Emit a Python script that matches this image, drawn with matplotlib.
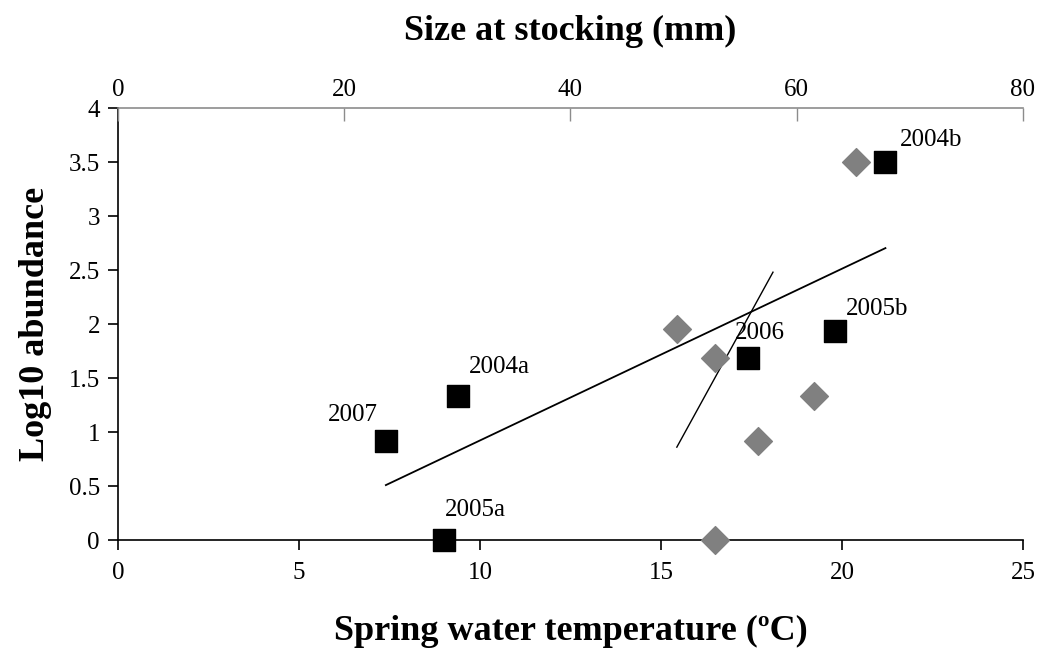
import numpy as np
import matplotlib
matplotlib.use("Agg")
import matplotlib.pyplot as plt

plt.rcParams["font.family"] = ["Liberation Serif", "DejaVu Serif"]

# squares: spring water temperature (bottom axis)
years = ["2007", "2004a", "2005a", "2006", "2005b", "2004b"]
temp_c = [7.4, 9.4, 9.0, 17.4, 19.8, 21.2]
log_abund = [0.92, 1.33, 0.0, 1.69, 1.94, 3.5]

# diamonds: size at stocking (top axis)
size_mm = [49.4, 52.8, 52.8, 56.6, 61.5, 65.2]
size_log_abund = [1.95, 1.69, 0.0, 0.92, 1.33, 3.5]

# trend line drawn against the size axis, as shown in the picture
size_trend_x = [49.4, 57.9]
size_trend_y = [0.86, 2.48]

# label offsets (pixels) and alignment for each square
label_offsets = {
    "2007": (-8, 26, "right"),
    "2004a": (11, 29, "left"),
    "2005a": (1, 30, "left"),
    "2006": (-13, 25, "left"),
    "2005b": (11, 22, "left"),
    "2004b": (14, 22, "left"),
}

fig = plt.figure(figsize=(10.46, 6.5), dpi=100)
ax = fig.add_axes([0.1128, 0.1692, 0.8652, 0.6646])
ax.set_xlim(0, 25)
ax.set_ylim(0, 4)
ax.set_xticks(np.arange(0, 26, 5))
ax.set_yticks(np.arange(0, 4.01, 0.5))
ax.set_yticklabels(["0", "0.5", "1", "1.5", "2", "2.5", "3", "3.5", "4"])
for s in ["top", "right"]:
    ax.spines[s].set_visible(False)
for s in ["left", "bottom"]:
    ax.spines[s].set_linewidth(1.2)
ax.tick_params(axis="both", direction="out", length=7, width=1.2, labelsize=18)
ax.tick_params(axis="x", pad=9)
ax.tick_params(axis="y", pad=6)
ax.set_xlabel("Spring water temperature (ºC)", fontsize=26, fontweight="bold", labelpad=22)
ax.set_ylabel("Log10 abundance", fontsize=26, fontweight="bold", labelpad=12)

# regression line of abundance on temperature
coef = np.polyfit(temp_c, log_abund, 1)
tx = np.array([min(temp_c), max(temp_c)])
ax.plot(tx, np.polyval(coef, tx), color="black", lw=1.3, zorder=2)

ax.scatter(temp_c, log_abund, marker="s", s=230, color="black", zorder=5, clip_on=False)
for yr, x, y in zip(years, temp_c, log_abund):
    dx, dy, ha = label_offsets[yr]
    ax.annotate(yr, (x, y), xytext=(dx, dy), textcoords="offset pixels",
                ha=ha, va="center", fontsize=18)

ax2 = ax.twiny()
ax2.set_xlim(0, 80)
ax2.set_ylim(0, 4)
ax2.set_xticks(np.arange(0, 81, 20))
for s in ["bottom", "left", "right"]:
    ax2.spines[s].set_visible(False)
ax2.spines["top"].set_color("#8c8c8c")
ax2.spines["top"].set_linewidth(1.2)
ax2.tick_params(axis="x", direction="in", length=9, width=1.0, color="#8c8c8c",
                labelsize=18, pad=5)
ax2.set_xlabel("Size at stocking (mm)", fontsize=26, fontweight="bold", labelpad=28)

ax2.plot(size_trend_x, size_trend_y, color="black", lw=1.0, zorder=2)
ax2.scatter(size_mm, size_log_abund, marker="D", s=200, color="#808080", zorder=5, clip_on=False)

fig.savefig("out.png", dpi=100)
